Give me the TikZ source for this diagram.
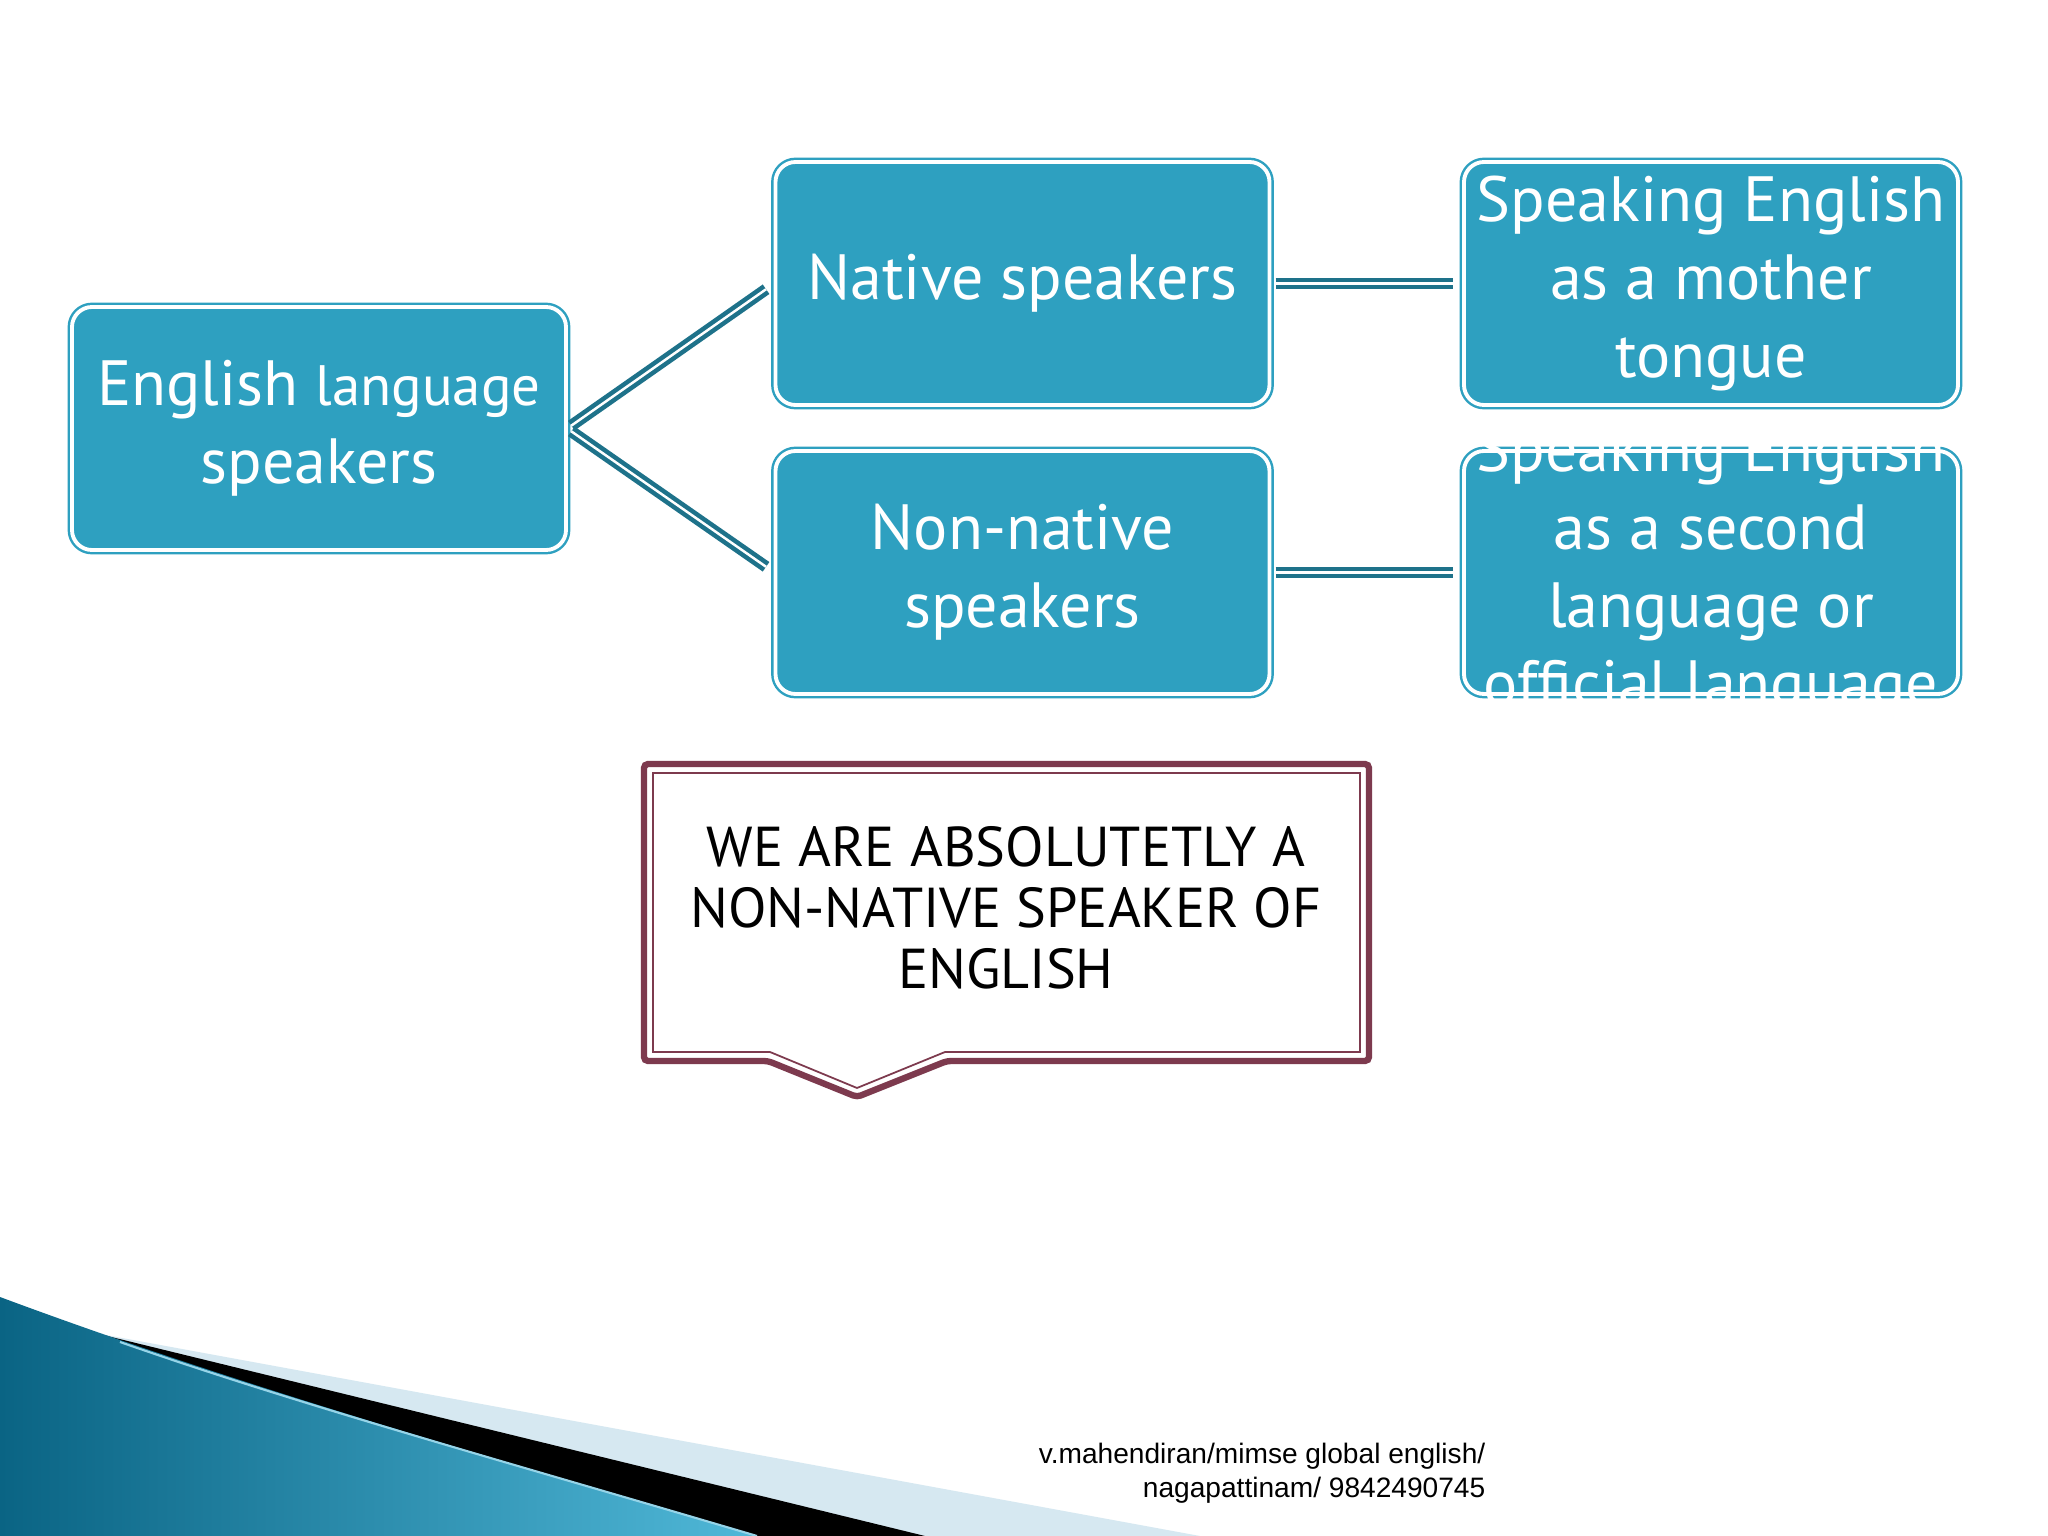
\documentclass[tikz,border=0pt]{standalone}
\usepackage{fontspec}
\setmainfont{PT Sans}
\newfontfamily\footfont{Liberation Sans}
\definecolor{boxblue}{RGB}{46,160,192}
\definecolor{linkblue}{RGB}{30,114,138}
\definecolor{notered}{RGB}{125,58,78}
\definecolor{swdark}{RGB}{10,100,132}
\definecolor{swlight}{RGB}{80,184,216}
\definecolor{swpale}{RGB}{214,232,241}

\begin{document}
\begin{tikzpicture}
[
stage/.style={draw=boxblue,line width=0.7pt,double=white,double distance=1.1pt,
              fill=boxblue,rounded corners=0.2cm,minimum width=4.94cm,
              minimum height=2.43cm,inner sep=0pt,align=center,text=white,
              font=\fontsize{18.2}{22.2}\selectfont},
stagetext/.style={align=center,text=white,inner sep=0pt,font=\fontsize{18.2}{22.2}\selectfont},
link/.style={draw=linkblue,line width=1.3pt,double=white,double distance=0.7pt,
             shorten <=0.05cm,shorten >=0.1cm},
]
\useasboundingbox[fill=white] (0,0) rectangle (20.48,-15.36);

%Corner swoosh
\fill[swpale] (0.95,-13.33) -- (12.0,-15.36) -- (0,-15.36) -- cycle;
\fill[black] (0.95,-13.33) -- (9.25,-15.36) -- (0,-15.36) -- cycle;
\shade[left color=swdark,right color=swlight] (0,-12.97) .. controls (2.5,-13.9) and (5.0,-14.6) .. (7.57,-15.36) -- (0,-15.36) -- cycle;
\draw[swlight!60!white,line width=0.6pt] (1.2,-13.42) .. controls (3.0,-14.05) and (5.0,-14.6) .. (7.57,-15.36);

%Place the nodes
\node[stage] (els) at (3.19,-4.285) {English {\fontsize{16.2}{22.2}\selectfont language}\\speakers};
\node[stage] (nat) at (10.225,-2.835) {Native speakers};
\node[stage] (nonnat) at (10.225,-5.725) {Non-native\\speakers};
\node[stage] (mother) at (17.11,-2.835) {Speaking English\\as a mother\\tongue};
\node[stage] (second) at (17.11,-5.725) {};
\node[stagetext] (secondtxt) at (second.center) {Speaking English\\as a second\\language or\\official language};

%Draw the connections
\draw[link] (els.east) -- (nat.west);
\draw[link] (els.east) -- (nonnat.west);
\draw[link] (nat.east) -- (mother.west);
\draw[link] (nonnat.east) -- (second.west);

%Callout
\draw[notered,line width=1.8pt,rounded corners=0.04cm] (6.44,-7.64) -- (13.69,-7.64) -- (13.69,-10.61) -- (9.47,-10.61) -- (8.57,-10.97) -- (7.68,-10.61) -- (6.44,-10.61) -- cycle;
\draw[notered,line width=0.5pt] (6.53,-7.73) -- (13.60,-7.73) -- (13.60,-10.52) -- (9.45,-10.52) -- (8.57,-10.88) -- (7.70,-10.52) -- (6.53,-10.52) -- cycle;
\node[align=center,font=\fontsize{16}{17.4}\selectfont] (msg) at (10.06,-9.08) {WE ARE ABSOLUTETLY A\\NON-NATIVE SPEAKER OF\\ENGLISH};

%Footer
\node[anchor=east,align=right,inner sep=0pt,font=\footfont\fontsize{8}{9.7}\selectfont] (credit) at (14.86,-14.73) {v.mahendiran/mimse global english/\\nagapattinam/ 9842490745};
\end{tikzpicture}
\end{document}
